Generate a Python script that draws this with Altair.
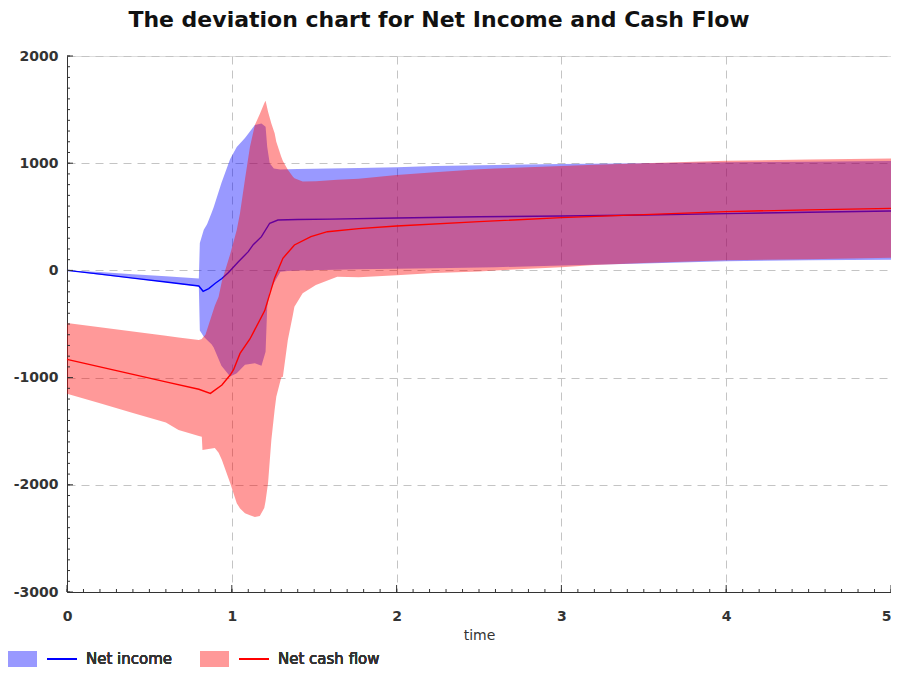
import altair as alt
import pandas as pd

# ---------------- data ----------------
# Net income: band (min/max) and mean line
ni_band_t = [0.0, 0.2, 0.4, 0.6, 0.8, 0.806, 0.83, 0.85, 0.877, 0.89, 0.937, 0.99, 1.03, 1.08,
             1.14, 1.18, 1.205, 1.215, 1.23, 1.255, 1.295, 1.34, 1.4, 1.77, 2.0, 2.23, 2.6,
             3.0, 3.5, 4.0, 4.5, 5.0]
ni_upper = [0, -15, -35, -55, -75, 255, 380, 430, 535, 590, 815, 1040, 1150, 1235,
            1356, 1370, 1340, 1150, 1000, 950, 942, 943, 945, 955, 962, 974, 983,
            992, 999, 1008, 1014, 1020]
ni_lower = [0, -40, -75, -110, -150, -560, -620, -650, -690, -720, -890, -990, -960, -880,
            -865, -890, -760, -340, -200, -120, -12, -5, 0, 10, 15, 20, 30,
            45, 65, 85, 95, 100]

ni_t = [0.0, 0.2, 0.4, 0.6, 0.8, 0.826, 0.86, 0.9, 0.94, 0.98, 1.04, 1.1, 1.13, 1.18, 1.23,
        1.28, 1.4, 1.6, 2.0, 2.5, 3.0, 3.5, 4.0, 4.5, 5.0]
ni_mean = [0, -35, -72, -108, -145, -195, -170, -120, -75, -20, 80, 175, 240, 315, 440,
           470, 475, 478, 489, 501, 507, 517, 530, 542, 554]

# Net cash flow: band (min/max) and mean line
cf_band_t = [0.0, 0.2, 0.4, 0.6, 0.677, 0.8, 0.818, 0.822, 0.84, 0.897, 0.92, 0.94, 0.99,
             1.03, 1.05, 1.08, 1.11, 1.14, 1.17, 1.197, 1.205, 1.22, 1.24, 1.26, 1.27,
             1.30, 1.31, 1.34, 1.37, 1.38, 1.43, 1.51, 1.64, 1.77, 2.0, 2.23, 2.5, 2.6,
             3.0, 3.2, 3.5, 4.0, 4.5, 5.0]
cf_upper = [-490, -530, -570, -610, -625, -650, -640, -630, -600, -330, -245, -100, 150,
            377, 535, 850, 1150, 1356, 1460, 1560, 1583, 1480, 1370, 1280, 1200,
            1060, 1020, 940, 875, 860, 830, 832, 845, 855, 890, 915, 943, 950,
            974, 985, 1000, 1023, 1035, 1045]
cf_lower = [-1150, -1240, -1330, -1420, -1489, -1545, -1551, -1675, -1670, -1657, -1700,
            -1769, -1984, -2171, -2220, -2265, -2285, -2300, -2290, -2216, -2150, -1984,
            -1582, -1300, -1178, -1000, -991, -649, -420, -338, -214, -136, -59, -65,
            -45, -25, -10, 0, 30, 50, 70, 95, 105, 118]

cf_t = [0.0, 0.2, 0.4, 0.6, 0.8, 0.87, 0.94, 0.99, 1.01, 1.05, 1.11, 1.2, 1.26, 1.31, 1.38,
        1.48, 1.58, 1.77, 2.0, 2.5, 3.0, 3.5, 4.0, 4.5, 5.0]
cf_mean = [-830, -900, -970, -1040, -1109, -1147, -1069, -976, -929, -774, -640, -375, -70,
           113, 237, 315, 361, 390, 414, 455, 492, 520, 548, 565, 579]

x_major = [0, 1, 2, 3, 4, 5]
x_minor = [i / 10 for i in range(51)]
y_major = [-3000, -2000, -1000, 0, 1000, 2000]
y_minor = [v * 100 for v in range(-30, 21)]

TITLE = "The deviation chart for Net Income and Cash Flow"
SERIES = ["Net income", "Net cash flow"]

# ---------------- frames ----------------
ni_band = pd.DataFrame({"t": ni_band_t, "upper": ni_upper, "lower": ni_lower})
cf_band = pd.DataFrame({"t": cf_band_t, "upper": cf_upper, "lower": cf_lower})
ni_line = pd.DataFrame({"t": ni_t, "v": ni_mean})
cf_line = pd.DataFrame({"t": cf_t, "v": cf_mean})
xmaj = pd.DataFrame({"t": x_major})
xmin = pd.DataFrame({"t": x_minor})
ymaj = pd.DataFrame({"v": y_major})
ymin = pd.DataFrame({"v": y_minor})

W, H = 824, 536
FONT = "DejaVu Sans"
AXC = "#333333"
GRID = "#c4c4c4"

xs = alt.Scale(domain=[0, 5], nice=False, zero=False)
ys = alt.Scale(domain=[-3000, 2000], nice=False, zero=False)

xaxis = alt.Axis(values=x_major, labelExpr="'' + datum.value", title="time", grid=True,
                 gridColor=GRID, gridDash=[8, 6], gridWidth=1, ticks=False, tickSize=0,
                 domainColor=AXC, domainWidth=1, labelFont=FONT, labelFontSize=14,
                 labelFontWeight="bold", labelColor=AXC, labelPadding=17, titleFont=FONT,
                 titleFontSize=14, titleFontWeight="normal", titleColor=AXC, titlePadding=5,
                 labelFlush=False,
                 labelAlign={"condition": {"test": "datum.value == 5", "value": "right"},
                             "value": "center"})
yaxis = alt.Axis(values=y_major, labelExpr="'' + datum.value", title=None, grid=True,
                 gridColor=GRID, gridDash=[8, 6], gridWidth=1, ticks=False, tickSize=0,
                 domainColor=AXC, domainWidth=1, labelFont=FONT, labelFontSize=14,
                 labelFontWeight="bold", labelColor=AXC, labelPadding=9)

X = alt.X("t:Q", scale=xs, axis=xaxis)


def Y(field):
    return alt.Y(f"{field}:Q", scale=ys, axis=yaxis)


BLUE, RED = "#0000ff", "#ff0000"

ni_area = alt.Chart(ni_band).mark_area(color=BLUE, opacity=0.4, interpolate="linear").encode(
    x=X, y=Y("upper"), y2="lower:Q")
ni_ln = alt.Chart(ni_line).mark_line(color=BLUE, strokeWidth=1.4).encode(x=X, y=Y("v"))
cf_area = alt.Chart(cf_band).mark_area(color=RED, opacity=0.4, interpolate="linear").encode(
    x=X, y=Y("upper"), y2="lower:Q")
cf_ln = alt.Chart(cf_line).mark_line(color=RED, strokeWidth=1.4).encode(x=X, y=Y("v"))

# inward tick marks
xt_major = alt.Chart(xmaj).mark_rule(color=AXC).encode(x=X, y=alt.value(H), y2=alt.value(H - 7))
xt_minor = alt.Chart(xmin).mark_rule(color=AXC).encode(x=X, y=alt.value(H), y2=alt.value(H - 3))
yt_major = alt.Chart(ymaj).mark_rule(color=AXC).encode(y=Y("v"), x=alt.value(0), x2=alt.value(6))
yt_minor = alt.Chart(ymin).mark_rule(color=AXC).encode(y=Y("v"), x=alt.value(0), x2=alt.value(3))

# legend (below the plot)
LY = 603
def legend_item(x0, fill, stroke, label):
    sw = alt.Chart(xmaj).mark_rect(color=fill, opacity=1).encode(
        x=alt.value(x0), x2=alt.value(x0 + 29), y=alt.value(LY - 8), y2=alt.value(LY + 8))
    ln = alt.Chart(xmaj).mark_rule(color=stroke, strokeWidth=1.4).encode(
        x=alt.value(x0 + 39), x2=alt.value(x0 + 69), y=alt.value(LY))
    tx = alt.Chart(xmaj).mark_text(align="left", baseline="middle", font=FONT, fontSize=15,
                                   fontWeight="normal", color="#333333").encode(
        x=alt.value(x0 + 78), y=alt.value(LY), text=alt.value(label))
    return [sw, ln, tx]

leg = legend_item(-59, "#9999ff", BLUE, SERIES[0]) + legend_item(133, "#ff9999", RED, SERIES[1])

chart = alt.layer(ni_area, ni_ln, cf_area, cf_ln, xt_minor, xt_major, yt_minor, yt_major,
                  *leg).properties(
    width=W, height=H,
    title=alt.Title(TITLE, font=FONT, fontSize=22, fontWeight="bold", color="#111111",
                    anchor="middle", frame="group", dx=-40, offset=17),
    autosize=alt.AutoSizeParams(type="none"),
    padding={"left": 59, "top": 48, "right": 0, "bottom": 77},
).configure_view(stroke=None).configure(background="white")

chart.save("out.html", embed_options={"renderer": "svg", "actions": False})
